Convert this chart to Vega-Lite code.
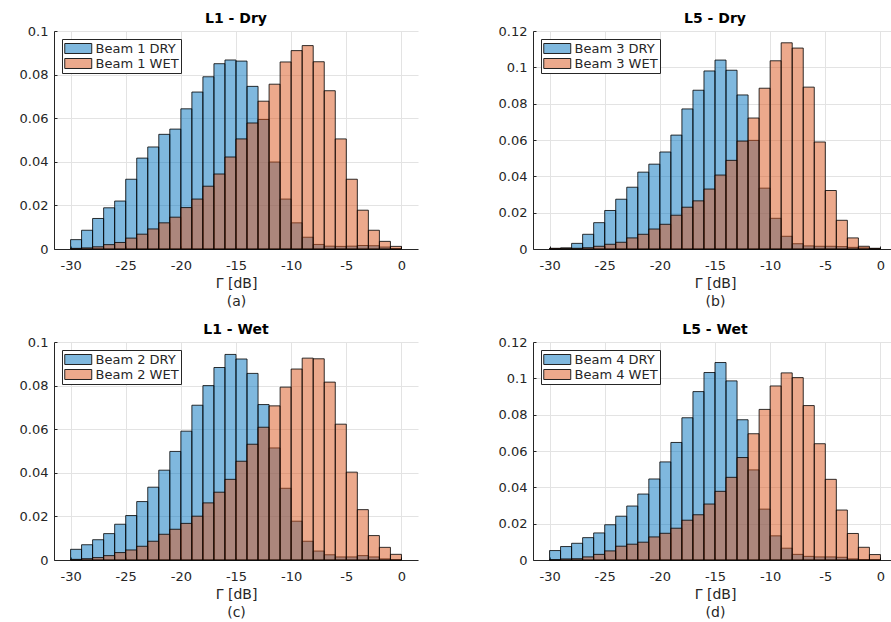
{
"$schema": "https://vega.github.io/schema/vega-lite/v6.json",
"background": "white",
"padding": {"left": 19, "top": 12, "right": 0, "bottom": 0},
"config": {
 "font": "DejaVu Sans",
 "view": {"stroke": null},
 "axis": {"domainColor": "#262626", "tickColor": "#262626", "labelColor": "#262626", "labelFont": "DejaVu Sans", "labelFontSize": 13, "gridColor": "#e3e3e3", "gridWidth": 1, "tickSize": -3, "titleFont": "DejaVu Sans", "titleFontSize": 14, "titleFontWeight": "normal", "titleColor": "#262626", "labelExpr": "'' + datum.value"},
 "axisX": {"labelPadding": 13, "titleLineHeight": 18.5, "titlePadding": 4},
 "axisY": {"labelPadding": 9},
 "title": {"font": "DejaVu Sans", "fontSize": 14, "fontWeight": "bold", "color": "#000", "offset": -1, "anchor": "middle"},
 "legend": {"orient": "top-left", "offset": 8, "title": null, "symbolType": "M-1,-0.74H3V0.74H-1Z", "symbolSize": 182, "labelFont": "DejaVu Sans", "labelFontSize": 13, "labelColor": "#262626", "strokeColor": "#262626", "fillColor": "#ffffff", "padding": 2, "rowPadding": -2, "labelOffset": 16.5, "symbolStrokeColor": "#222", "symbolStrokeWidth": 1}
},
"concat": [
 {"width": 364, "height": 218, "title": "L1 - Dry", "data": {"name": "p1"},
  "mark": {"type": "bar", "fillOpacity": 0.5, "stroke": "#000", "strokeOpacity": 0.8, "strokeWidth": 1},
  "encoding": {
   "x": {"field": "x0", "type": "quantitative", "scale": {"domain": [-31.5, 1.5], "nice": false, "zero": false}, "axis": {"values": [-30, -25, -20, -15, -10, -5, 0], "title": ["Γ [dB]", "(a)"]}},
   "x2": {"field": "x1"},
   "y": {"field": "v", "type": "quantitative", "stack": null, "scale": {"domain": [0, 0.1], "nice": false}, "axis": {"values": [0, 0.02, 0.04, 0.06, 0.08, 0.1], "title": null}},
   "y2": {"datum": 0},
   "color": {"field": "s", "type": "nominal", "sort": null, "scale": {"domain": ["Beam 1 DRY", "Beam 1 WET"], "range": ["#0072BD", "#D95319"]}, "legend": {"encode": {"symbols": {"update": {"fillOpacity": {"value": 0.5}, "opacity": {"value": 1}}}}}}
  }},
 {"width": 364, "height": 218, "title": "L5 - Dry", "data": {"name": "p2"},
  "mark": {"type": "bar", "fillOpacity": 0.5, "stroke": "#000", "strokeOpacity": 0.8, "strokeWidth": 1},
  "encoding": {
   "x": {"field": "x0", "type": "quantitative", "scale": {"domain": [-31.5, 1.5], "nice": false, "zero": false}, "axis": {"values": [-30, -25, -20, -15, -10, -5, 0], "title": ["Γ [dB]", "(b)"]}},
   "x2": {"field": "x1"},
   "y": {"field": "v", "type": "quantitative", "stack": null, "scale": {"domain": [0, 0.12], "nice": false}, "axis": {"values": [0, 0.02, 0.04, 0.06, 0.08, 0.1, 0.12], "title": null}},
   "y2": {"datum": 0},
   "color": {"field": "s", "type": "nominal", "sort": null, "scale": {"domain": ["Beam 3 DRY", "Beam 3 WET"], "range": ["#0072BD", "#D95319"]}, "legend": {"encode": {"symbols": {"update": {"fillOpacity": {"value": 0.5}, "opacity": {"value": 1}}}}}}
  }},
 {"width": 364, "height": 218, "title": "L1 - Wet", "data": {"name": "p3"},
  "mark": {"type": "bar", "fillOpacity": 0.5, "stroke": "#000", "strokeOpacity": 0.8, "strokeWidth": 1},
  "encoding": {
   "x": {"field": "x0", "type": "quantitative", "scale": {"domain": [-31.5, 1.5], "nice": false, "zero": false}, "axis": {"values": [-30, -25, -20, -15, -10, -5, 0], "title": ["Γ [dB]", "(c)"]}},
   "x2": {"field": "x1"},
   "y": {"field": "v", "type": "quantitative", "stack": null, "scale": {"domain": [0, 0.1], "nice": false}, "axis": {"values": [0, 0.02, 0.04, 0.06, 0.08, 0.1], "title": null}},
   "y2": {"datum": 0},
   "color": {"field": "s", "type": "nominal", "sort": null, "scale": {"domain": ["Beam 2 DRY", "Beam 2 WET"], "range": ["#0072BD", "#D95319"]}, "legend": {"encode": {"symbols": {"update": {"fillOpacity": {"value": 0.5}, "opacity": {"value": 1}}}}}}
  }},
 {"width": 364, "height": 218, "title": "L5 - Wet", "data": {"name": "p4"},
  "mark": {"type": "bar", "fillOpacity": 0.5, "stroke": "#000", "strokeOpacity": 0.8, "strokeWidth": 1},
  "encoding": {
   "x": {"field": "x0", "type": "quantitative", "scale": {"domain": [-31.5, 1.5], "nice": false, "zero": false}, "axis": {"values": [-30, -25, -20, -15, -10, -5, 0], "title": ["Γ [dB]", "(d)"]}},
   "x2": {"field": "x1"},
   "y": {"field": "v", "type": "quantitative", "stack": null, "scale": {"domain": [0, 0.12], "nice": false}, "axis": {"values": [0, 0.02, 0.04, 0.06, 0.08, 0.1, 0.12], "title": null}},
   "y2": {"datum": 0},
   "color": {"field": "s", "type": "nominal", "sort": null, "scale": {"domain": ["Beam 4 DRY", "Beam 4 WET"], "range": ["#0072BD", "#D95319"]}, "legend": {"encode": {"symbols": {"update": {"fillOpacity": {"value": 0.5}, "opacity": {"value": 1}}}}}}
  }}
],
"columns": 2,
"spacing": {"row": 93, "column": 115},
"bounds": "flush",
"resolve": {"scale": {"x": "independent", "y": "independent", "color": "independent"}, "axis": {"x": "independent", "y": "independent"}, "legend": {"color": "independent"}},
"datasets": {
"p1": [
{"x0":-30,"x1":-29,"s":"Beam 1 DRY","v":0.0043},{"x0":-29,"x1":-28,"s":"Beam 1 DRY","v":0.0086},{"x0":-28,"x1":-27,"s":"Beam 1 DRY","v":0.014},{"x0":-27,"x1":-26,"s":"Beam 1 DRY","v":0.0189},{"x0":-26,"x1":-25,"s":"Beam 1 DRY","v":0.022},{"x0":-25,"x1":-24,"s":"Beam 1 DRY","v":0.032},{"x0":-24,"x1":-23,"s":"Beam 1 DRY","v":0.0417},{"x0":-23,"x1":-22,"s":"Beam 1 DRY","v":0.0468},{"x0":-22,"x1":-21,"s":"Beam 1 DRY","v":0.0526},{"x0":-21,"x1":-20,"s":"Beam 1 DRY","v":0.055},{"x0":-20,"x1":-19,"s":"Beam 1 DRY","v":0.0643},{"x0":-19,"x1":-18,"s":"Beam 1 DRY","v":0.072},{"x0":-18,"x1":-17,"s":"Beam 1 DRY","v":0.079},{"x0":-17,"x1":-16,"s":"Beam 1 DRY","v":0.085},{"x0":-16,"x1":-15,"s":"Beam 1 DRY","v":0.0867},{"x0":-15,"x1":-14,"s":"Beam 1 DRY","v":0.0862},{"x0":-14,"x1":-13,"s":"Beam 1 DRY","v":0.0746},{"x0":-13,"x1":-12,"s":"Beam 1 DRY","v":0.0594},{"x0":-12,"x1":-11,"s":"Beam 1 DRY","v":0.0399},{"x0":-11,"x1":-10,"s":"Beam 1 DRY","v":0.0229},{"x0":-10,"x1":-9,"s":"Beam 1 DRY","v":0.012},{"x0":-9,"x1":-8,"s":"Beam 1 DRY","v":0.0054},{"x0":-8,"x1":-7,"s":"Beam 1 DRY","v":0.0021},{"x0":-7,"x1":-6,"s":"Beam 1 DRY","v":0.0013},{"x0":-6,"x1":-5,"s":"Beam 1 DRY","v":0.0012},{"x0":-5,"x1":-4,"s":"Beam 1 DRY","v":0.0013},{"x0":-4,"x1":-3,"s":"Beam 1 DRY","v":0.0016},{"x0":-3,"x1":-2,"s":"Beam 1 DRY","v":0.0015},{"x0":-2,"x1":-1,"s":"Beam 1 DRY","v":0.0009},{"x0":-1,"x1":0,"s":"Beam 1 DRY","v":0.0001},
{"x0":-30,"x1":-29,"s":"Beam 1 WET","v":0.0003},{"x0":-29,"x1":-28,"s":"Beam 1 WET","v":0.0005},{"x0":-28,"x1":-27,"s":"Beam 1 WET","v":0.001},{"x0":-27,"x1":-26,"s":"Beam 1 WET","v":0.002},{"x0":-26,"x1":-25,"s":"Beam 1 WET","v":0.003},{"x0":-25,"x1":-24,"s":"Beam 1 WET","v":0.005},{"x0":-24,"x1":-23,"s":"Beam 1 WET","v":0.0068},{"x0":-23,"x1":-22,"s":"Beam 1 WET","v":0.0092},{"x0":-22,"x1":-21,"s":"Beam 1 WET","v":0.012},{"x0":-21,"x1":-20,"s":"Beam 1 WET","v":0.0146},{"x0":-20,"x1":-19,"s":"Beam 1 WET","v":0.019},{"x0":-19,"x1":-18,"s":"Beam 1 WET","v":0.0229},{"x0":-18,"x1":-17,"s":"Beam 1 WET","v":0.0288},{"x0":-17,"x1":-16,"s":"Beam 1 WET","v":0.0344},{"x0":-16,"x1":-15,"s":"Beam 1 WET","v":0.0422},{"x0":-15,"x1":-14,"s":"Beam 1 WET","v":0.0505},{"x0":-14,"x1":-13,"s":"Beam 1 WET","v":0.0578},{"x0":-13,"x1":-12,"s":"Beam 1 WET","v":0.0678},{"x0":-12,"x1":-11,"s":"Beam 1 WET","v":0.0756},{"x0":-11,"x1":-10,"s":"Beam 1 WET","v":0.0858},{"x0":-10,"x1":-9,"s":"Beam 1 WET","v":0.091},{"x0":-9,"x1":-8,"s":"Beam 1 WET","v":0.0933},{"x0":-8,"x1":-7,"s":"Beam 1 WET","v":0.0859},{"x0":-7,"x1":-6,"s":"Beam 1 WET","v":0.0726},{"x0":-6,"x1":-5,"s":"Beam 1 WET","v":0.0505},{"x0":-5,"x1":-4,"s":"Beam 1 WET","v":0.032},{"x0":-4,"x1":-3,"s":"Beam 1 WET","v":0.0178},{"x0":-3,"x1":-2,"s":"Beam 1 WET","v":0.0086},{"x0":-2,"x1":-1,"s":"Beam 1 WET","v":0.0035},{"x0":-1,"x1":0,"s":"Beam 1 WET","v":0.0012}
],
"p2": [
{"x0":-30,"x1":-29,"s":"Beam 3 DRY","v":0.0002},{"x0":-29,"x1":-28,"s":"Beam 3 DRY","v":0.0006},{"x0":-28,"x1":-27,"s":"Beam 3 DRY","v":0.0031},{"x0":-27,"x1":-26,"s":"Beam 3 DRY","v":0.0081},{"x0":-26,"x1":-25,"s":"Beam 3 DRY","v":0.0145},{"x0":-25,"x1":-24,"s":"Beam 3 DRY","v":0.0212},{"x0":-24,"x1":-23,"s":"Beam 3 DRY","v":0.0274},{"x0":-23,"x1":-22,"s":"Beam 3 DRY","v":0.034},{"x0":-22,"x1":-21,"s":"Beam 3 DRY","v":0.0423},{"x0":-21,"x1":-20,"s":"Beam 3 DRY","v":0.0467},{"x0":-20,"x1":-19,"s":"Beam 3 DRY","v":0.0534},{"x0":-19,"x1":-18,"s":"Beam 3 DRY","v":0.0627},{"x0":-18,"x1":-17,"s":"Beam 3 DRY","v":0.0771},{"x0":-17,"x1":-16,"s":"Beam 3 DRY","v":0.0874},{"x0":-16,"x1":-15,"s":"Beam 3 DRY","v":0.098},{"x0":-15,"x1":-14,"s":"Beam 3 DRY","v":0.104},{"x0":-14,"x1":-13,"s":"Beam 3 DRY","v":0.0984},{"x0":-13,"x1":-12,"s":"Beam 3 DRY","v":0.0848},{"x0":-12,"x1":-11,"s":"Beam 3 DRY","v":0.0598},{"x0":-11,"x1":-10,"s":"Beam 3 DRY","v":0.0335},{"x0":-10,"x1":-9,"s":"Beam 3 DRY","v":0.0169},{"x0":-9,"x1":-8,"s":"Beam 3 DRY","v":0.007},{"x0":-8,"x1":-7,"s":"Beam 3 DRY","v":0.0029},{"x0":-7,"x1":-6,"s":"Beam 3 DRY","v":0.0017},{"x0":-6,"x1":-5,"s":"Beam 3 DRY","v":0.0015},{"x0":-5,"x1":-4,"s":"Beam 3 DRY","v":0.0015},{"x0":-4,"x1":-3,"s":"Beam 3 DRY","v":0.0013},{"x0":-3,"x1":-2,"s":"Beam 3 DRY","v":0.0009},{"x0":-2,"x1":-1,"s":"Beam 3 DRY","v":0.0006},{"x0":-1,"x1":0,"s":"Beam 3 DRY","v":0.0002},
{"x0":-30,"x1":-29,"s":"Beam 3 WET","v":0.0004},{"x0":-29,"x1":-28,"s":"Beam 3 WET","v":0.0004},{"x0":-28,"x1":-27,"s":"Beam 3 WET","v":0.0004},{"x0":-27,"x1":-26,"s":"Beam 3 WET","v":0.0007},{"x0":-26,"x1":-25,"s":"Beam 3 WET","v":0.0015},{"x0":-25,"x1":-24,"s":"Beam 3 WET","v":0.0026},{"x0":-24,"x1":-23,"s":"Beam 3 WET","v":0.0037},{"x0":-23,"x1":-22,"s":"Beam 3 WET","v":0.0061},{"x0":-22,"x1":-21,"s":"Beam 3 WET","v":0.0081},{"x0":-21,"x1":-20,"s":"Beam 3 WET","v":0.011},{"x0":-20,"x1":-19,"s":"Beam 3 WET","v":0.0136},{"x0":-19,"x1":-18,"s":"Beam 3 WET","v":0.0186},{"x0":-18,"x1":-17,"s":"Beam 3 WET","v":0.023},{"x0":-17,"x1":-16,"s":"Beam 3 WET","v":0.0265},{"x0":-16,"x1":-15,"s":"Beam 3 WET","v":0.033},{"x0":-15,"x1":-14,"s":"Beam 3 WET","v":0.0407},{"x0":-14,"x1":-13,"s":"Beam 3 WET","v":0.0488},{"x0":-13,"x1":-12,"s":"Beam 3 WET","v":0.0594},{"x0":-12,"x1":-11,"s":"Beam 3 WET","v":0.0721},{"x0":-11,"x1":-10,"s":"Beam 3 WET","v":0.0885},{"x0":-10,"x1":-9,"s":"Beam 3 WET","v":0.1036},{"x0":-9,"x1":-8,"s":"Beam 3 WET","v":0.1135},{"x0":-8,"x1":-7,"s":"Beam 3 WET","v":0.1106},{"x0":-7,"x1":-6,"s":"Beam 3 WET","v":0.0891},{"x0":-6,"x1":-5,"s":"Beam 3 WET","v":0.0589},{"x0":-5,"x1":-4,"s":"Beam 3 WET","v":0.0322},{"x0":-4,"x1":-3,"s":"Beam 3 WET","v":0.0158},{"x0":-3,"x1":-2,"s":"Beam 3 WET","v":0.0061},{"x0":-2,"x1":-1,"s":"Beam 3 WET","v":0.0015},{"x0":-1,"x1":0,"s":"Beam 3 WET","v":0.0004}
],
"p3": [
{"x0":-30,"x1":-29,"s":"Beam 2 DRY","v":0.0049},{"x0":-29,"x1":-28,"s":"Beam 2 DRY","v":0.007},{"x0":-28,"x1":-27,"s":"Beam 2 DRY","v":0.0093},{"x0":-27,"x1":-26,"s":"Beam 2 DRY","v":0.0121},{"x0":-26,"x1":-25,"s":"Beam 2 DRY","v":0.0164},{"x0":-25,"x1":-24,"s":"Beam 2 DRY","v":0.0204},{"x0":-24,"x1":-23,"s":"Beam 2 DRY","v":0.0268},{"x0":-23,"x1":-22,"s":"Beam 2 DRY","v":0.0334},{"x0":-22,"x1":-21,"s":"Beam 2 DRY","v":0.0412},{"x0":-21,"x1":-20,"s":"Beam 2 DRY","v":0.0498},{"x0":-20,"x1":-19,"s":"Beam 2 DRY","v":0.0591},{"x0":-19,"x1":-18,"s":"Beam 2 DRY","v":0.071},{"x0":-18,"x1":-17,"s":"Beam 2 DRY","v":0.08},{"x0":-17,"x1":-16,"s":"Beam 2 DRY","v":0.0883},{"x0":-16,"x1":-15,"s":"Beam 2 DRY","v":0.0943},{"x0":-15,"x1":-14,"s":"Beam 2 DRY","v":0.0922},{"x0":-14,"x1":-13,"s":"Beam 2 DRY","v":0.0856},{"x0":-13,"x1":-12,"s":"Beam 2 DRY","v":0.0713},{"x0":-12,"x1":-11,"s":"Beam 2 DRY","v":0.0514},{"x0":-11,"x1":-10,"s":"Beam 2 DRY","v":0.0329},{"x0":-10,"x1":-9,"s":"Beam 2 DRY","v":0.0178},{"x0":-9,"x1":-8,"s":"Beam 2 DRY","v":0.0086},{"x0":-8,"x1":-7,"s":"Beam 2 DRY","v":0.0041},{"x0":-7,"x1":-6,"s":"Beam 2 DRY","v":0.0024},{"x0":-6,"x1":-5,"s":"Beam 2 DRY","v":0.0014},{"x0":-5,"x1":-4,"s":"Beam 2 DRY","v":0.0014},{"x0":-4,"x1":-3,"s":"Beam 2 DRY","v":0.002},{"x0":-3,"x1":-2,"s":"Beam 2 DRY","v":0.0014},{"x0":-2,"x1":-1,"s":"Beam 2 DRY","v":0.0005},{"x0":-1,"x1":0,"s":"Beam 2 DRY","v":0.0001},
{"x0":-30,"x1":-29,"s":"Beam 2 WET","v":0.0003},{"x0":-29,"x1":-28,"s":"Beam 2 WET","v":0.0006},{"x0":-28,"x1":-27,"s":"Beam 2 WET","v":0.0011},{"x0":-27,"x1":-26,"s":"Beam 2 WET","v":0.002},{"x0":-26,"x1":-25,"s":"Beam 2 WET","v":0.0034},{"x0":-25,"x1":-24,"s":"Beam 2 WET","v":0.0046},{"x0":-24,"x1":-23,"s":"Beam 2 WET","v":0.0063},{"x0":-23,"x1":-22,"s":"Beam 2 WET","v":0.0086},{"x0":-22,"x1":-21,"s":"Beam 2 WET","v":0.0118},{"x0":-21,"x1":-20,"s":"Beam 2 WET","v":0.0141},{"x0":-20,"x1":-19,"s":"Beam 2 WET","v":0.0168},{"x0":-19,"x1":-18,"s":"Beam 2 WET","v":0.0201},{"x0":-18,"x1":-17,"s":"Beam 2 WET","v":0.0262},{"x0":-17,"x1":-16,"s":"Beam 2 WET","v":0.0311},{"x0":-16,"x1":-15,"s":"Beam 2 WET","v":0.037},{"x0":-15,"x1":-14,"s":"Beam 2 WET","v":0.0453},{"x0":-14,"x1":-13,"s":"Beam 2 WET","v":0.0531},{"x0":-13,"x1":-12,"s":"Beam 2 WET","v":0.0609},{"x0":-12,"x1":-11,"s":"Beam 2 WET","v":0.0707},{"x0":-11,"x1":-10,"s":"Beam 2 WET","v":0.0793},{"x0":-10,"x1":-9,"s":"Beam 2 WET","v":0.0876},{"x0":-9,"x1":-8,"s":"Beam 2 WET","v":0.0926},{"x0":-8,"x1":-7,"s":"Beam 2 WET","v":0.0923},{"x0":-7,"x1":-6,"s":"Beam 2 WET","v":0.0816},{"x0":-6,"x1":-5,"s":"Beam 2 WET","v":0.0623},{"x0":-5,"x1":-4,"s":"Beam 2 WET","v":0.0403},{"x0":-4,"x1":-3,"s":"Beam 2 WET","v":0.0231},{"x0":-3,"x1":-2,"s":"Beam 2 WET","v":0.0112},{"x0":-2,"x1":-1,"s":"Beam 2 WET","v":0.0058},{"x0":-1,"x1":0,"s":"Beam 2 WET","v":0.0026}
],
"p4": [
{"x0":-30,"x1":-29,"s":"Beam 4 DRY","v":0.0052},{"x0":-29,"x1":-28,"s":"Beam 4 DRY","v":0.0074},{"x0":-28,"x1":-27,"s":"Beam 4 DRY","v":0.0092},{"x0":-27,"x1":-26,"s":"Beam 4 DRY","v":0.0123},{"x0":-26,"x1":-25,"s":"Beam 4 DRY","v":0.0149},{"x0":-25,"x1":-24,"s":"Beam 4 DRY","v":0.0194},{"x0":-24,"x1":-23,"s":"Beam 4 DRY","v":0.0241},{"x0":-23,"x1":-22,"s":"Beam 4 DRY","v":0.0297},{"x0":-22,"x1":-21,"s":"Beam 4 DRY","v":0.0363},{"x0":-21,"x1":-20,"s":"Beam 4 DRY","v":0.0446},{"x0":-20,"x1":-19,"s":"Beam 4 DRY","v":0.054},{"x0":-19,"x1":-18,"s":"Beam 4 DRY","v":0.0647},{"x0":-18,"x1":-17,"s":"Beam 4 DRY","v":0.0783},{"x0":-17,"x1":-16,"s":"Beam 4 DRY","v":0.0927},{"x0":-16,"x1":-15,"s":"Beam 4 DRY","v":0.1032},{"x0":-15,"x1":-14,"s":"Beam 4 DRY","v":0.1087},{"x0":-14,"x1":-13,"s":"Beam 4 DRY","v":0.0986},{"x0":-13,"x1":-12,"s":"Beam 4 DRY","v":0.0772},{"x0":-12,"x1":-11,"s":"Beam 4 DRY","v":0.0496},{"x0":-11,"x1":-10,"s":"Beam 4 DRY","v":0.028},{"x0":-10,"x1":-9,"s":"Beam 4 DRY","v":0.0133},{"x0":-9,"x1":-8,"s":"Beam 4 DRY","v":0.0065},{"x0":-8,"x1":-7,"s":"Beam 4 DRY","v":0.0031},{"x0":-7,"x1":-6,"s":"Beam 4 DRY","v":0.002},{"x0":-6,"x1":-5,"s":"Beam 4 DRY","v":0.0017},{"x0":-5,"x1":-4,"s":"Beam 4 DRY","v":0.0017},{"x0":-4,"x1":-3,"s":"Beam 4 DRY","v":0.0015},{"x0":-3,"x1":-2,"s":"Beam 4 DRY","v":0.0006},{"x0":-2,"x1":-1,"s":"Beam 4 DRY","v":0.0002},{"x0":-1,"x1":0,"s":"Beam 4 DRY","v":0.0001},
{"x0":-30,"x1":-29,"s":"Beam 4 WET","v":0.0001},{"x0":-29,"x1":-28,"s":"Beam 4 WET","v":0.0006},{"x0":-28,"x1":-27,"s":"Beam 4 WET","v":0.0007},{"x0":-27,"x1":-26,"s":"Beam 4 WET","v":0.0017},{"x0":-26,"x1":-25,"s":"Beam 4 WET","v":0.0031},{"x0":-25,"x1":-24,"s":"Beam 4 WET","v":0.005},{"x0":-24,"x1":-23,"s":"Beam 4 WET","v":0.0076},{"x0":-23,"x1":-22,"s":"Beam 4 WET","v":0.0087},{"x0":-22,"x1":-21,"s":"Beam 4 WET","v":0.0098},{"x0":-21,"x1":-20,"s":"Beam 4 WET","v":0.0127},{"x0":-20,"x1":-19,"s":"Beam 4 WET","v":0.0147},{"x0":-19,"x1":-18,"s":"Beam 4 WET","v":0.0175},{"x0":-18,"x1":-17,"s":"Beam 4 WET","v":0.0219},{"x0":-17,"x1":-16,"s":"Beam 4 WET","v":0.0249},{"x0":-16,"x1":-15,"s":"Beam 4 WET","v":0.0308},{"x0":-15,"x1":-14,"s":"Beam 4 WET","v":0.0378},{"x0":-14,"x1":-13,"s":"Beam 4 WET","v":0.0455},{"x0":-13,"x1":-12,"s":"Beam 4 WET","v":0.0564},{"x0":-12,"x1":-11,"s":"Beam 4 WET","v":0.0695},{"x0":-11,"x1":-10,"s":"Beam 4 WET","v":0.0829},{"x0":-10,"x1":-9,"s":"Beam 4 WET","v":0.0958},{"x0":-9,"x1":-8,"s":"Beam 4 WET","v":0.103},{"x0":-8,"x1":-7,"s":"Beam 4 WET","v":0.1004},{"x0":-7,"x1":-6,"s":"Beam 4 WET","v":0.085},{"x0":-6,"x1":-5,"s":"Beam 4 WET","v":0.064},{"x0":-5,"x1":-4,"s":"Beam 4 WET","v":0.0444},{"x0":-4,"x1":-3,"s":"Beam 4 WET","v":0.0275},{"x0":-3,"x1":-2,"s":"Beam 4 WET","v":0.0146},{"x0":-2,"x1":-1,"s":"Beam 4 WET","v":0.007},{"x0":-1,"x1":0,"s":"Beam 4 WET","v":0.003}
]
}
}
